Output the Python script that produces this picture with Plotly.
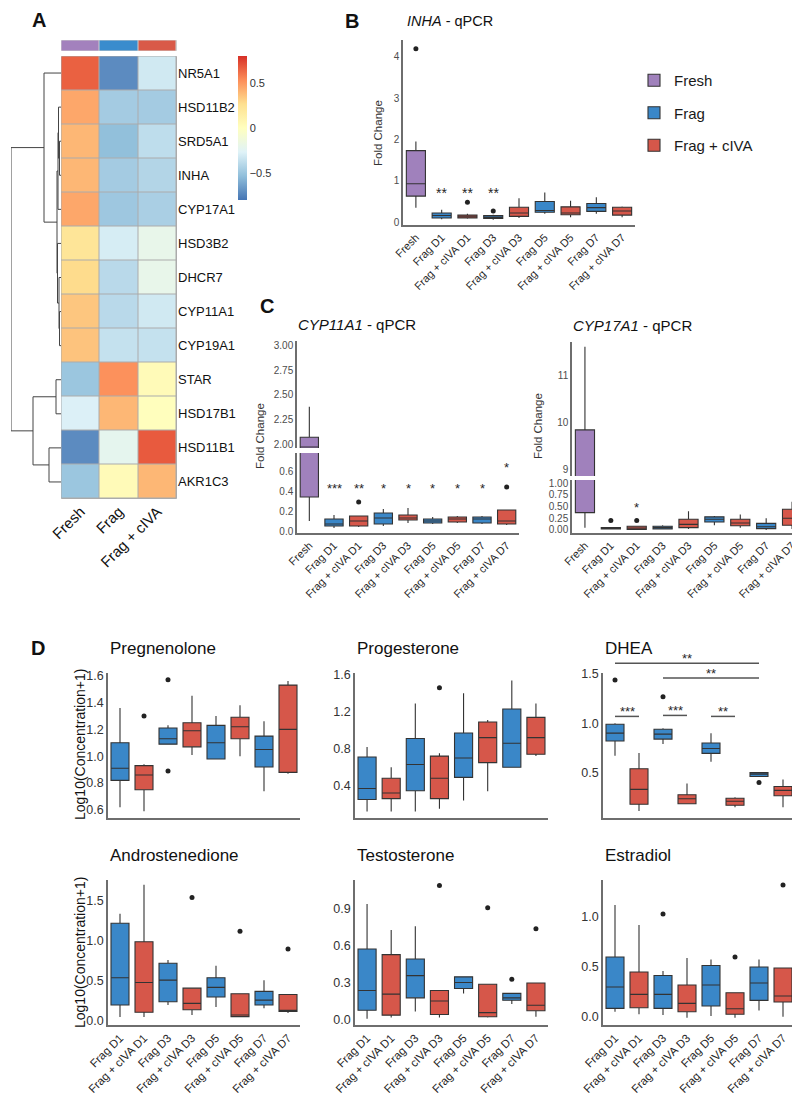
import plotly.graph_objects as go

W, H = 800, 1095
FONT = "Liberation Sans, Arial, Helvetica, sans-serif"
AXC = "#6e6e6e"
BOXLINE = "#333333"
COL = {"Fresh": "#A081BC", "Frag": "#3A87C8", "Frag + cIVA": "#D6574A"}

# ---------------- Panel A : heatmap ----------------
genes = ["NR5A1", "HSD11B2", "SRD5A1", "INHA", "CYP17A1", "HSD3B2", "DHCR7",
         "CYP11A1", "CYP19A1", "STAR", "HSD17B1", "HSD11B1", "AKR1C3"]
conditions = ["Fresh", "Frag", "Frag + cIVA"]
heat_fresh = [0.66, 0.45, 0.40, 0.40, 0.45, 0.22, 0.28, 0.35, 0.36, -0.50, -0.28, -0.72, -0.50]
heat_frag = [-0.72, -0.47, -0.53, -0.47, -0.49, -0.30, -0.40, -0.40, -0.36, 0.52, 0.40, -0.22, 0.04]
heat_civa = [-0.32, -0.47, -0.38, -0.42, -0.45, -0.20, -0.20, -0.32, -0.36, 0.04, 0.01, 0.68, 0.40]
# dendrogram linkage: (child a, child b, height); leaves = row index, merged nodes numbered from 13
linkage = [(2, 3, 1.5), (1, 13, 2.5), (14, 4, 3.0), (7, 8, 1.5), (6, 16, 2.0), (5, 17, 3.5),
           (15, 18, 4.0), (0, 19, 17.0), (9, 10, 5.0), (11, 12, 12.0), (21, 22, 28.0), (20, 23, 50.0)]
heat_colors = ["#4575B4", "#91BFDB", "#E0F3F8", "#FFFFBF", "#FEE090", "#FC8D59", "#D73027"]

# ---------------- Panel B / C : qPCR ----------------
qpcr_cats = ["Fresh", "Frag D1", "Frag + cIVA D1", "Frag D3", "Frag + cIVA D3",
             "Frag D5", "Frag + cIVA D5", "Frag D7", "Frag + cIVA D7"]
qpcr_groups = ["Fresh", "Frag", "Frag + cIVA", "Frag", "Frag + cIVA",
               "Frag", "Frag + cIVA", "Frag", "Frag + cIVA"]

inha_low = [0.35, 0.07, 0.08, 0.06, 0.10, 0.20, 0.12, 0.20, 0.12]
inha_q1 = [0.63, 0.10, 0.10, 0.09, 0.14, 0.24, 0.18, 0.26, 0.17]
inha_med = [0.93, 0.16, 0.13, 0.12, 0.22, 0.28, 0.22, 0.35, 0.27]
inha_q3 = [1.73, 0.22, 0.17, 0.16, 0.36, 0.50, 0.37, 0.45, 0.36]
inha_high = [1.95, 0.30, 0.20, 0.18, 0.58, 0.72, 0.52, 0.60, 0.38]
inha_out_x = ["Fresh", "Frag + cIVA D1", "Frag D3"]
inha_out_y = [4.20, 0.48, 0.27]
inha_stars = ["", "**", "**", "**", "", "", "", "", ""]
inha_star_y = [None, 0.78, 0.78, 0.78, None, None, None, None, None]

cyp11_low = [0.10, 0.03, 0.04, 0.05, 0.08, 0.07, 0.08, 0.07, 0.06]
cyp11_q1 = [0.34, 0.05, 0.05, 0.07, 0.11, 0.08, 0.09, 0.08, 0.07]
cyp11_med = [1.97, 0.07, 0.10, 0.13, 0.13, 0.10, 0.12, 0.12, 0.10]
cyp11_q3 = [2.07, 0.12, 0.15, 0.18, 0.16, 0.12, 0.14, 0.14, 0.21]
cyp11_high = [2.38, 0.16, 0.15, 0.22, 0.23, 0.14, 0.15, 0.15, 0.21]
cyp11_out_x = ["Frag + cIVA D1", "Frag + cIVA D7"]
cyp11_out_y = [0.29, 0.44]
cyp11_stars = ["", "***", "**", "*", "*", "*", "*", "*", "*"]
cyp11_star_y = [None, 0.45, 0.45, 0.45, 0.45, 0.45, 0.45, 0.45, 0.66]

cyp17_low = [0.05, 0.01, 0.00, 0.01, 0.02, 0.10, 0.05, 0.00, 0.02]
cyp17_q1 = [0.37, 0.02, 0.01, 0.02, 0.05, 0.17, 0.09, 0.03, 0.10]
cyp17_med = [5.00, 0.03, 0.04, 0.05, 0.12, 0.23, 0.15, 0.07, 0.25]
cyp17_q3 = [9.85, 0.05, 0.08, 0.08, 0.23, 0.28, 0.23, 0.14, 0.44]
cyp17_high = [11.62, 0.05, 0.08, 0.10, 0.40, 0.30, 0.33, 0.25, 0.60]
cyp17_out_x = ["Frag D1", "Frag + cIVA D1"]
cyp17_out_y = [0.20, 0.20]
cyp17_stars = ["", "", "*", "", "", "", "", "", ""]
cyp17_star_y = [None, None, 0.55, None, None, None, None, None, None]

# ---------------- Panel D : steroids ----------------
ster_cats = ["Frag D1", "Frag + cIVA D1", "Frag D3", "Frag + cIVA D3",
             "Frag D5", "Frag + cIVA D5", "Frag D7", "Frag + cIVA D7"]
ster_groups = ["Frag", "Frag + cIVA"] * 4

preg_low = [0.62, 0.59, 1.09, 1.01, 0.98, 1.00, 0.74, 0.87]
preg_q1 = [0.82, 0.75, 1.09, 1.07, 0.98, 1.13, 0.92, 0.88]
preg_med = [0.91, 0.86, 1.13, 1.19, 1.10, 1.22, 1.05, 1.20]
preg_q3 = [1.10, 0.93, 1.21, 1.25, 1.23, 1.29, 1.15, 1.53]
preg_high = [1.36, 0.94, 1.23, 1.45, 1.30, 1.38, 1.26, 1.56]
preg_out_x = ["Frag + cIVA D1", "Frag D3", "Frag D3"]
preg_out_y = [1.30, 1.57, 0.89]

prog_low = [0.12, 0.12, 0.12, 0.15, 0.24, 0.34, 0.60, 0.72]
prog_q1 = [0.25, 0.26, 0.345, 0.26, 0.49, 0.65, 0.60, 0.74]
prog_med = [0.37, 0.32, 0.63, 0.48, 0.70, 0.92, 0.86, 0.92]
prog_q3 = [0.71, 0.48, 0.91, 0.72, 0.97, 1.09, 1.23, 1.14]
prog_high = [0.82, 0.60, 1.29, 0.75, 1.40, 1.11, 1.54, 1.29]
prog_out_x = ["Frag + cIVA D3"]
prog_out_y = [1.46]

dhea_low = [0.67, 0.11, 0.79, 0.185, 0.61, 0.15, 0.46, 0.15]
dhea_q1 = [0.82, 0.18, 0.84, 0.185, 0.695, 0.17, 0.46, 0.265]
dhea_med = [0.90, 0.33, 0.89, 0.235, 0.745, 0.21, 0.485, 0.32]
dhea_q3 = [0.99, 0.54, 0.94, 0.275, 0.80, 0.24, 0.50, 0.36]
dhea_high = [1.00, 0.70, 0.95, 0.39, 0.90, 0.25, 0.50, 0.43]
dhea_out_x = ["Frag D1", "Frag D3", "Frag D7"]
dhea_out_y = [1.44, 1.27, 0.40]
dhea_brackets = [("Frag D1", "Frag D7", 1.61, "**"), ("Frag D3", "Frag D7", 1.46, "**"),
                 ("Frag D1", "Frag + cIVA D1", 1.07, "***"), ("Frag D3", "Frag + cIVA D3", 1.08, "***"),
                 ("Frag D5", "Frag + cIVA D5", 1.07, "**")]

andro_low = [0.05, 0.05, 0.20, 0.075, 0.175, 0.05, 0.16, 0.10]
andro_q1 = [0.20, 0.11, 0.24, 0.14, 0.30, 0.055, 0.20, 0.12]
andro_med = [0.54, 0.48, 0.51, 0.22, 0.42, 0.075, 0.26, 0.13]
andro_q3 = [1.22, 0.99, 0.72, 0.41, 0.54, 0.34, 0.37, 0.33]
andro_high = [1.34, 1.70, 0.76, 0.41, 0.69, 0.34, 0.51, 0.33]
andro_out_x = ["Frag + cIVA D3", "Frag + cIVA D5", "Frag + cIVA D7"]
andro_out_y = [1.54, 1.12, 0.90]

testo_low = [0.01, 0.02, 0.07, 0.02, 0.216, 0.02, 0.13, 0.027]
testo_q1 = [0.08, 0.04, 0.18, 0.045, 0.256, 0.027, 0.16, 0.075]
testo_med = [0.24, 0.21, 0.36, 0.155, 0.305, 0.06, 0.18, 0.12]
testo_q3 = [0.576, 0.53, 0.495, 0.24, 0.35, 0.29, 0.216, 0.30]
testo_high = [0.94, 0.73, 0.76, 0.24, 0.35, 0.29, 0.216, 0.30]
testo_out_x = ["Frag + cIVA D3", "Frag + cIVA D5", "Frag D7", "Frag + cIVA D7"]
testo_out_y = [1.09, 0.91, 0.33, 0.74]

estr_low = [0.053, 0.027, 0.02, -0.007, 0.01, -0.007, 0.066, 0.003]
estr_q1 = [0.086, 0.093, 0.086, 0.053, 0.11, 0.027, 0.166, 0.15]
estr_med = [0.30, 0.226, 0.226, 0.136, 0.32, 0.083, 0.34, 0.21]
estr_q3 = [0.60, 0.45, 0.415, 0.32, 0.515, 0.243, 0.50, 0.49]
estr_high = [1.12, 0.92, 0.46, 0.59, 0.575, 0.243, 0.575, 0.49]
estr_out_x = ["Frag D3", "Frag + cIVA D5", "Frag + cIVA D7"]
estr_out_y = [1.03, 0.60, 1.32]


# ---------------- helpers ----------------
def dx(a, b):
    return [a / W, b / W]


def dy(top, bottom):
    return [1 - bottom / H, 1 - top / H]


fig = go.Figure()
layout = {}
annotations = []
shapes = []


def ax_id(n):
    return "" if n == 1 else str(n)


def add_boxes(n, cats, groups, low, q1, med, q3, high, out_x, out_y, legend=False, width=0.74):
    sfx = ax_id(n)
    for g in ["Fresh", "Frag", "Frag + cIVA"]:
        idx = [i for i, gg in enumerate(groups) if gg == g]
        if not idx:
            continue
        fig.add_trace(go.Box(
            x=[cats[i] for i in idx], q1=[q1[i] for i in idx], median=[med[i] for i in idx],
            q3=[q3[i] for i in idx], lowerfence=[low[i] for i in idx], upperfence=[high[i] for i in idx],
            fillcolor=COL[g], line=dict(color=BOXLINE, width=1.1), whiskerwidth=0, width=width,
            boxpoints=False, name=g, showlegend=legend, legendgroup=g, hoverinfo="skip",
            xaxis="x" + sfx, yaxis="y" + sfx))
    if out_x:
        fig.add_trace(go.Scatter(x=out_x, y=out_y, mode="markers", marker=dict(size=5, color="#222222"),
                                 showlegend=False, hoverinfo="skip", xaxis="x" + sfx, yaxis="y" + sfx))


def cat_axis(n, cats, xdom, anchor, show_labels=True, font_size=11, show_line=True):
    layout["xaxis" + ax_id(n)] = dict(
        domain=xdom, anchor="y" + ax_id(anchor), type="category", categoryorder="array",
        categoryarray=cats, range=[-0.5, len(cats) - 0.5], showline=show_line, linecolor=AXC,
        linewidth=1.5, ticks="", showgrid=False, zeroline=False, showticklabels=show_labels,
        tickangle=-45, tickfont=dict(size=font_size, color="#262626"), fixedrange=True,
        ticklabelstandoff=0)


def val_axis(n, ydom, rng, tickvals, fmt, font_size=10, anchor=None):
    layout["yaxis" + ax_id(n)] = dict(
        domain=ydom, anchor="x" + ax_id(anchor if anchor else n), range=rng, tickvals=tickvals,
        ticktext=[format(v, fmt) for v in tickvals], showline=True, linecolor=AXC, linewidth=1.5,
        ticks="", showgrid=False, zeroline=False, tickfont=dict(size=font_size, color="#4d4d4d"),
        fixedrange=True)


def add_stars(n, cats, stars, ys, size=14):
    sfx = ax_id(n)
    for c, s, y in zip(cats, stars, ys):
        if s:
            annotations.append(dict(x=cats.index(c), y=y, xref="x" + sfx, yref="y" + sfx, text=s,
                                    showarrow=False, font=dict(size=size, color="#262626"), yshift=-3))


def label(x, y, text, size, angle=0, xanchor="left", color="#111111"):
    annotations.append(dict(x=x / W, y=1 - y / H, xref="paper", yref="paper", text=text,
                            showarrow=False, xanchor=xanchor, yanchor="middle", textangle=angle,
                            font=dict(size=size, color=color, family=FONT)))


# ---------------- Panel A ----------------
z = [[a, b, c] for a, b, c in zip(heat_fresh, heat_frag, heat_civa)]
fig.add_trace(go.Heatmap(
    z=z, x=conditions, y=genes, zmin=-0.8, zmax=0.8, xgap=1, ygap=1,
    colorscale=[[i / (len(heat_colors) - 1), c] for i, c in enumerate(heat_colors)],
    colorbar=dict(x=230 / W, xanchor="left", y=1 - 48 / H, yanchor="top", len=144, lenmode="pixels",
                  thickness=9, outlinewidth=0, tickvals=[-0.5, 0, 0.5], ticktext=["\u22120.5", "0", "0.5"],
                  ticks="", tickfont=dict(size=11, color="#333333"), xpad=0, ypad=0),
    hoverinfo="skip", xaxis="x", yaxis="y"))
layout["xaxis"] = dict(domain=dx(53, 169), anchor="y", type="category", showgrid=False, zeroline=False,
                       ticks="", tickangle=-45, tickfont=dict(size=15, color="#111111"), fixedrange=True)
layout["yaxis"] = dict(domain=dy(48, 491), anchor="x", type="category", autorange="reversed", side="right",
                       showgrid=False, zeroline=False, ticks="", tickfont=dict(size=13, color="#111111"),
                       fixedrange=True)
shapes.append(dict(type="rect", xref="x", yref="y", x0=-0.5, x1=len(conditions) - 0.5, y0=-0.5,
                   y1=len(genes) - 0.5, fillcolor="#ABABAB", line=dict(color="#ABABAB", width=1), layer="below"))

# dendrogram
pos = {i: (0.0, float(i)) for i in range(len(genes))}
dxs, dys = [], []
for k, (a, b, h) in enumerate(linkage):
    ha, ya = pos[a]
    hb, yb = pos[b]
    dxs += [ha, h, h, hb, None]
    dys += [ya, ya, yb, yb, None]
    pos[len(genes) + k] = (h, (ya + yb) / 2)
maxh = max(h for _, _, h in linkage)
fig.add_trace(go.Scatter(x=dxs, y=dys, mode="lines", line=dict(color="#444444", width=1),
                         showlegend=False, hoverinfo="skip", xaxis="x2", yaxis="y2"))
layout["xaxis2"] = dict(domain=dx(3, 53), anchor="y2", range=[maxh, 0], visible=False, fixedrange=True)
layout["yaxis2"] = dict(domain=dy(48, 491), anchor="x2", range=[len(genes) - 0.5, -0.5], visible=False,
                        fixedrange=True)

# annotation bar
fig.add_trace(go.Heatmap(z=[[0, 1, 2]], x=conditions, y=["group"], zmin=0, zmax=2, xgap=1, showscale=False,
                         colorscale=[[0, "#A381BD"], [0.33, "#A381BD"], [0.34, "#3A8CCD"], [0.66, "#3A8CCD"],
                                     [0.67, "#D95A48"], [1, "#D95A48"]],
                         hoverinfo="skip", xaxis="x3", yaxis="y3"))
layout["xaxis3"] = dict(domain=dx(53, 169), anchor="y3", visible=False, fixedrange=True)
layout["yaxis3"] = dict(domain=dy(32, 43), anchor="x3", visible=False, fixedrange=True)
shapes.append(dict(type="rect", xref="x3", yref="y3", x0=-0.5, x1=len(conditions) - 0.5, y0=-0.5, y1=0.5,
                   fillcolor="#CFCFCF", line=dict(color="#CFCFCF", width=1), layer="below"))

label(22, 12, "<b>A</b>", 20)

# ---------------- Panel B ----------------
add_boxes(4, qpcr_cats, qpcr_groups, inha_low, inha_q1, inha_med, inha_q3, inha_high,
          inha_out_x, inha_out_y, legend=True)
cat_axis(4, qpcr_cats, dx(395, 627), 4)
val_axis(4, dy(32, 217), [-0.07, 4.41], [0, 1, 2, 3, 4], "d")
add_stars(4, qpcr_cats, inha_stars, inha_star_y)
label(335, 13, "<b>B</b>", 20)
label(397, 13, "<i>INHA</i> - qPCR", 14.5)
label(370, 125, "Fold Change", 11.5, angle=-90, xanchor="center", color="#333333")

# ---------------- Panel C left (broken axis) ----------------
for n, ydom, rng, tv, fmt, lower in [(5, dy(445, 525), [-0.02, 0.78], [0.0, 0.2, 0.4, 0.6], ".1f", True),
                                     (6, dy(333, 440), [1.96, 3.05], [2.0, 2.25, 2.5, 2.75, 3.0], ".2f", False)]:
    add_boxes(n, qpcr_cats, qpcr_groups, cyp11_low, cyp11_q1, cyp11_med, cyp11_q3, cyp11_high,
              cyp11_out_x if lower else [], cyp11_out_y if lower else [])
    cat_axis(n, qpcr_cats, dx(289, 511), n, show_labels=lower, show_line=lower)
    val_axis(n, ydom, rng, tv, fmt)
add_stars(5, qpcr_cats, cyp11_stars, cyp11_star_y, size=13)
label(250, 298, "<b>C</b>", 20)
label(288, 316, "<i>CYP11A1</i> - qPCR", 15)
label(252, 428, "Fold Change", 11.5, angle=-90, xanchor="center", color="#333333")

# ---------------- Panel C right (broken axis) ----------------
for n, ydom, rng, tv, fmt, lower in [(7, dy(472, 525), [-0.064, 1.064], [0.0, 0.25, 0.5, 0.75, 1.0], ".2f", True),
                                     (8, dy(334, 468), [8.87, 11.72], [9, 10, 11], "d", False)]:
    add_boxes(n, qpcr_cats, qpcr_groups, cyp17_low, cyp17_q1, cyp17_med, cyp17_q3, cyp17_high,
              cyp17_out_x if lower else [], cyp17_out_y if lower else [])
    cat_axis(n, qpcr_cats, dx(564, 797), n, show_labels=lower, show_line=lower)
    val_axis(n, ydom, rng, tv, fmt)
add_stars(7, qpcr_cats, cyp17_stars, cyp17_star_y, size=13)
label(563, 318, "<i>CYP17A1</i> - qPCR", 15)
label(530, 418, "Fold Change", 11.5, angle=-90, xanchor="center", color="#333333")

# ---------------- Panel D ----------------
panels = [
    (9, "Pregnenolone", (100, 292), (665, 810), [0.54, 1.62], [0.6, 0.8, 1.0, 1.2, 1.4, 1.6],
     (preg_low, preg_q1, preg_med, preg_q3, preg_high, preg_out_x, preg_out_y), False),
    (10, "Progesterone", (347, 540), (665, 810), [0.05, 1.62], [0.4, 0.8, 1.2, 1.6],
     (prog_low, prog_q1, prog_med, prog_q3, prog_high, prog_out_x, prog_out_y), False),
    (11, "DHEA", (595, 787), (665, 810), [0.04, 1.51], [0.5, 1.0, 1.5],
     (dhea_low, dhea_q1, dhea_med, dhea_q3, dhea_high, dhea_out_x, dhea_out_y), False),
    (12, "Androstenedione", (100, 292), (872, 1017), [-0.05, 1.76], [0.0, 0.5, 1.0, 1.5],
     (andro_low, andro_q1, andro_med, andro_q3, andro_high, andro_out_x, andro_out_y), True),
    (13, "Testosterone", (347, 540), (872, 1017), [-0.04, 1.135], [0.0, 0.3, 0.6, 0.9],
     (testo_low, testo_q1, testo_med, testo_q3, testo_high, testo_out_x, testo_out_y), True),
    (14, "Estradiol", (595, 787), (872, 1017), [-0.08, 1.37], [0.0, 0.5, 1.0],
     (estr_low, estr_q1, estr_med, estr_q3, estr_high, estr_out_x, estr_out_y), True),
]
for n, title, (x0, x1), (y0, y1), rng, tv, d, labels in panels:
    add_boxes(n, ster_cats, ster_groups, *d, width=0.75)
    cat_axis(n, ster_cats, dx(x0, x1), n, show_labels=labels, font_size=11.5)
    val_axis(n, dy(y0, y1), rng, tv, ".1f", font_size=12.5)
    layout["yaxis" + ax_id(n)]["tickfont"]["color"] = "#333333"
    label(x0, y0 - 25, title, 17)

# DHEA significance brackets
dhea_rng = layout["yaxis11"]["range"]
for c0, c1, yv, txt in dhea_brackets:
    frac = (yv - dhea_rng[0]) / (dhea_rng[1] - dhea_rng[0])
    shapes.append(dict(type="line", xref="x11", yref="y11 domain", x0=ster_cats.index(c0),
                       x1=ster_cats.index(c1), y0=frac, y1=frac, line=dict(color="#555555", width=1.5)))
    annotations.append(dict(x=(ster_cats.index(c0) + ster_cats.index(c1)) / 2, y=frac, xref="x11",
                            yref="y11 domain", text=txt, showarrow=False, yanchor="bottom", yshift=-5,
                            font=dict(size=13, color="#262626")))

label(21, 640, "<b>D</b>", 20)
label(72, 737, "Log10(Concentration+1)", 14, angle=-90, xanchor="center")
label(72, 945, "Log10(Concentration+1)", 14, angle=-90, xanchor="center")

layout.update(dict(
    width=W, height=H, margin=dict(l=0, r=0, t=0, b=0), template="none",
    paper_bgcolor="white", plot_bgcolor="white", font=dict(family=FONT, color="#111111"),
    boxmode="overlay",
    legend=dict(x=626 / W, y=1 - 56 / H, xanchor="left", yanchor="top", font=dict(size=15, color="#1a1a1a"),
                tracegroupgap=10, itemwidth=30, bgcolor="rgba(0,0,0,0)", traceorder="grouped"),
    annotations=annotations, shapes=shapes))
fig.update_layout(**layout)
fig.write_html("out.html")
